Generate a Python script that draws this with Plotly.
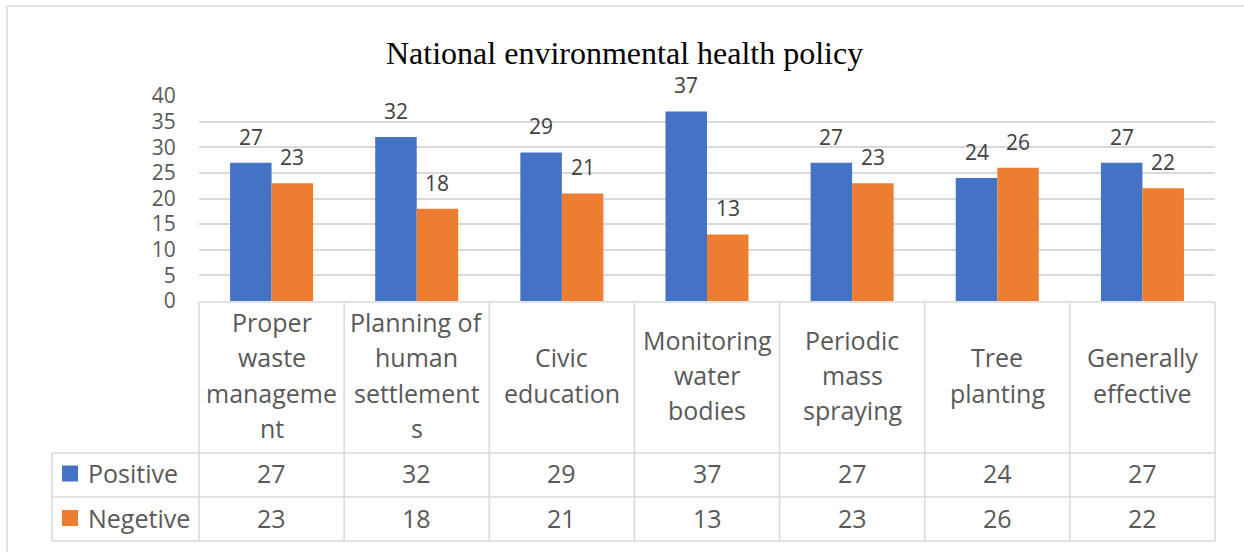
import plotly.graph_objects as go

# ---- data ----
categories = [
    "Proper waste management",
    "Planning of human settlements",
    "Civic education",
    "Monitoring water bodies",
    "Periodic mass spraying",
    "Tree planting",
    "Generally effective",
]
# wrapped header text as it appears in the data-table cells
category_lines = [
    ["Proper", "waste", "manageme", "nt"],
    ["Planning of", "human", "settlement", "s"],
    ["Civic", "education"],
    ["Monitoring", "water", "bodies"],
    ["Periodic", "mass", "spraying"],
    ["Tree", "planting"],
    ["Generally", "effective"],
]
positive = [27, 32, 29, 37, 27, 24, 27]
negative = [23, 18, 21, 13, 23, 26, 22]
series_names = ["Positive", "Negetive"]
y_ticks = [0, 5, 10, 15, 20, 25, 30, 35, 40]
title_text = "National environmental health policy"

# ---- layout geometry (pixels) ----
W, H = 1244, 552
PL, PR, PT, PB = 199, 1215, 96, 301   # plot area edges
HEADER_BOTTOM = 453
ROW1_BOTTOM = 497
ROW2_BOTTOM = 541
TABLE_LEFT = 52
LINE_PITCH = 35.3

BLUE = "#4472C4"
ORANGE = "#ED7D31"
GRID = "#D9D9D9"
TEXT_GRAY = "#595959"
LABEL_GRAY = "#404040"
SANS = "Open Sans"


def px_x(x):
    return (x - PL) / (PR - PL)


def px_y(y):
    return (PB - y) / (PB - PT)


fig = go.Figure()
fig.add_trace(go.Bar(x=categories, y=positive, name=series_names[0],
                     marker=dict(color=BLUE, line=dict(width=0))))
fig.add_trace(go.Bar(x=categories, y=negative, name=series_names[1],
                     marker=dict(color=ORANGE, line=dict(width=0))))

annotations = []
shapes = []

# value labels above bars
col_w = (PR - PL) / len(categories)
bar_w = col_w * 0.572 / 2
for vals, shift in ((positive, -bar_w / 2), (negative, bar_w / 2)):
    for c, v in zip(categories, vals):
        annotations.append(dict(
            x=c, xref="x", y=v, yref="y", xshift=shift, yshift=26,
            text=str(v), showarrow=False, yanchor="middle", xanchor="center",
            font=dict(family=SANS, size=21, color=LABEL_GRAY)))

# title
annotations.append(dict(
    x=px_x(624.5), xref="paper", y=px_y(52.5), yref="paper",
    text=title_text, showarrow=False, xanchor="center", yanchor="middle",
    font=dict(family="Liberation Serif", size=32, color="black")))

# data table: header cells
header_mid = (PB + HEADER_BOTTOM) / 2 - 2
for i, lines in enumerate(category_lines):
    cx = PL + col_w * (i + 0.5)
    n = len(lines)
    for j, line in enumerate(lines):
        cy = header_mid + (j - (n - 1) / 2) * LINE_PITCH
        annotations.append(dict(
            x=px_x(cx), xref="paper", y=px_y(cy), yref="paper",
            text=line, showarrow=False, xanchor="center", yanchor="middle",
            font=dict(family=SANS, size=25, color=TEXT_GRAY)))

# data table: value rows with legend keys
row_centers = [(HEADER_BOTTOM + ROW1_BOTTOM) / 2 - 1.5,
               (ROW1_BOTTOM + ROW2_BOTTOM) / 2 - 1]
for name, vals, color, cy in zip(series_names, (positive, negative),
                                 (BLUE, ORANGE), row_centers):
    shapes.append(dict(type="rect", xref="paper", yref="paper",
                       x0=px_x(62), x1=px_x(78), y0=px_y(cy - 8), y1=px_y(cy + 8),
                       fillcolor=color, line=dict(width=0)))
    annotations.append(dict(
        x=px_x(86), xref="paper", y=px_y(cy), yref="paper",
        text=name, showarrow=False, xanchor="left", yanchor="middle",
        font=dict(family=SANS, size=25, color=TEXT_GRAY)))
    for i, v in enumerate(vals):
        cx = PL + col_w * (i + 0.5)
        annotations.append(dict(
            x=px_x(cx), xref="paper", y=px_y(cy), yref="paper",
            text=str(v), showarrow=False, xanchor="center", yanchor="middle",
            font=dict(family=SANS, size=25, color=TEXT_GRAY)))


def hline(x0, x1, y):
    shapes.append(dict(type="line", xref="paper", yref="paper",
                       x0=px_x(x0), x1=px_x(x1), y0=px_y(y), y1=px_y(y),
                       line=dict(color=GRID, width=1.5)))


def vline(x, y0, y1):
    shapes.append(dict(type="line", xref="paper", yref="paper",
                       x0=px_x(x), x1=px_x(x), y0=px_y(y0), y1=px_y(y1),
                       line=dict(color=GRID, width=1.5)))


# table grid
hline(PL, PR, PB + 1)
for y in (HEADER_BOTTOM, ROW1_BOTTOM, ROW2_BOTTOM):
    hline(TABLE_LEFT, PR, y)
vline(TABLE_LEFT, HEADER_BOTTOM, ROW2_BOTTOM)
for i in range(len(categories) + 1):
    vline(PL + col_w * i, PB + 1, ROW2_BOTTOM)

# chart-area border (left and top edges)
vline(7, 6, H + 5)
hline(7, W + 5, 6)

fig.update_layout(
    width=W, height=H, autosize=False,
    margin=dict(l=PL, r=W - PR, t=PT, b=H - PB, pad=0),
    paper_bgcolor="white", plot_bgcolor="white",
    barmode="group", bargap=0.428, bargroupgap=0,
    showlegend=False,
    xaxis=dict(showticklabels=False, showgrid=False, zeroline=False,
               showline=False, ticks="", range=[-0.5, len(categories) - 0.5]),
    yaxis=dict(range=[0, 40], tickvals=y_ticks, showgrid=True,
               gridcolor=GRID, gridwidth=1.5, zeroline=False, showline=False,
               ticks="outside", ticklen=18, tickcolor="rgba(0,0,0,0)",
               tickfont=dict(family=SANS, size=21, color=TEXT_GRAY)),
    annotations=annotations,
    shapes=shapes,
)

fig.write_html("out.html")
